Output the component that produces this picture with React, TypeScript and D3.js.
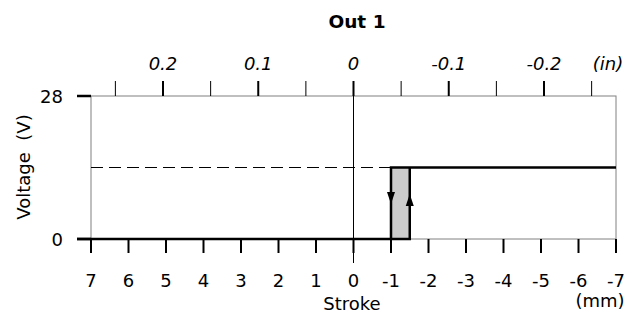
import React, { useEffect, useRef } from 'react';
import * as d3 from 'd3';

// stroke ticks (mm), reversed axis
const mmTicks = [7, 6, 5, 4, 3, 2, 1, 0, -1, -2, -3, -4, -5, -6, -7];
// inch ticks on the top axis
const inMajor = [0.2, 0.1, 0, -0.1, -0.2];
const inMinor = [0.25, 0.15, 0.05, -0.05, -0.15, -0.25];
const voltTicks = [0, 28];

// output signal (stroke mm, voltage V)
const onLevel = 14;
const releasePoint = -1.0; // falls back to 0 V here (moving left)
const operatePoint = -1.5; // switches on here (moving right)
const offPath: [number, number][] = [
  [7, 0],
  [operatePoint, 0],
  [operatePoint, onLevel],
];
const onPath: [number, number][] = [
  [releasePoint, 0],
  [releasePoint, onLevel],
  [-7, onLevel],
];

const FONT = '"DejaVu Sans", Verdana, sans-serif';
const FS = '18px';

const App = () => {
  const ref = useRef<SVGSVGElement>(null);

  useEffect(() => {
    const svg = d3.select(ref.current);
    svg.selectAll('*').remove();

    const left = 91,
      right = 616,
      top = 96,
      bottom = 239;

    const x = d3.scaleLinear().domain([7, -7]).range([left, right]);
    const y = d3.scaleLinear().domain([0, 28]).range([bottom, top]);
    const xin = (v: number) => x(v * 25.4);

    const g = svg.append('g').style('font-family', FONT);

    // title
    g.append('text')
      .attr('x', 357)
      .attr('y', 28)
      .attr('text-anchor', 'middle')
      .style('font-size', '18.5px')
      .style('font-weight', 'bold')
      .text('Out 1');

    // hysteresis fill
    g.append('rect')
      .attr('x', x(releasePoint))
      .attr('y', y(onLevel))
      .attr('width', x(operatePoint) - x(releasePoint))
      .attr('height', y(0) - y(onLevel))
      .attr('fill', '#cccccc');

    // frame
    g.append('rect')
      .attr('x', left)
      .attr('y', top)
      .attr('width', right - left)
      .attr('height', bottom - top)
      .attr('fill', 'none')
      .attr('stroke', '#808080')
      .attr('stroke-width', 1);

    // dashed level line
    g.append('line')
      .attr('x1', left)
      .attr('x2', x(releasePoint))
      .attr('y1', y(onLevel))
      .attr('y2', y(onLevel))
      .attr('stroke', '#000')
      .attr('stroke-width', 1)
      .attr('stroke-dasharray', '12,6');

    // zero stroke line
    g.append('line')
      .attr('x1', x(0))
      .attr('x2', x(0))
      .attr('y1', top)
      .attr('y2', 263)
      .attr('stroke', '#000')
      .attr('stroke-width', 1);

    // top axis ticks
    g.selectAll('.tmaj')
      .data(inMajor)
      .enter()
      .append('line')
      .attr('x1', (d) => xin(d))
      .attr('x2', (d) => xin(d))
      .attr('y1', top)
      .attr('y2', top - 15)
      .attr('stroke', '#000')
      .attr('stroke-width', 2);
    g.selectAll('.tmin')
      .data(inMinor)
      .enter()
      .append('line')
      .attr('x1', (d) => xin(d))
      .attr('x2', (d) => xin(d))
      .attr('y1', top)
      .attr('y2', top - 15)
      .attr('stroke', '#000')
      .attr('stroke-width', 1);
    g.selectAll('.tlab')
      .data(inMajor)
      .enter()
      .append('text')
      .attr('x', (d) => xin(d))
      .attr('y', 70)
      .attr('text-anchor', 'middle')
      .style('font-size', FS)
      .style('font-style', 'italic')
      .text((d) => (d === 0 ? '0' : String(d)));
    g.append('text')
      .attr('x', 608)
      .attr('y', 70)
      .attr('text-anchor', 'middle')
      .style('font-size', FS)
      .style('font-style', 'italic')
      .text('(in)');

    // bottom axis
    g.append('line')
      .attr('x1', 77)
      .attr('x2', left)
      .attr('y1', bottom)
      .attr('y2', bottom)
      .attr('stroke', '#000')
      .attr('stroke-width', 2.5);
    g.selectAll('.bt')
      .data(mmTicks)
      .enter()
      .append('line')
      .attr('x1', (d) => x(d))
      .attr('x2', (d) => x(d))
      .attr('y1', bottom)
      .attr('y2', bottom + 14)
      .attr('stroke', '#000')
      .attr('stroke-width', 2);
    g.selectAll('.bl')
      .data(mmTicks)
      .enter()
      .append('text')
      .attr('x', (d) => x(d))
      .attr('y', 287)
      .attr('text-anchor', 'middle')
      .style('font-size', FS)
      .text((d) => (d < 0 ? '-' + Math.abs(d) : String(d)));
    g.append('text')
      .attr('x', 352)
      .attr('y', 310)
      .attr('text-anchor', 'middle')
      .style('font-size', FS)
      .text('Stroke');
    g.append('text')
      .attr('x', 600)
      .attr('y', 307)
      .attr('text-anchor', 'middle')
      .style('font-size', FS)
      .text('(mm)');

    // left axis
    g.selectAll('.yt')
      .data(voltTicks)
      .enter()
      .append('line')
      .attr('x1', 77)
      .attr('x2', left)
      .attr('y1', (d) => y(d))
      .attr('y2', (d) => y(d))
      .attr('stroke', '#000')
      .attr('stroke-width', 2.5);
    g.selectAll('.yl')
      .data(voltTicks)
      .enter()
      .append('text')
      .attr('x', 63)
      .attr('y', (d) => y(d) + 7)
      .attr('text-anchor', 'end')
      .style('font-size', FS)
      .text((d) => String(d));
    g.append('text')
      .attr('transform', 'translate(30,' + 167 + ')rotate(-90)')
      .attr('text-anchor', 'middle')
      .style('font-size', FS)
      .style('white-space', 'pre')
      .text('Voltage  (V)');

    // signal
    const line = d3
      .line<[number, number]>()
      .x((d) => x(d[0]))
      .y((d) => y(d[1]));
    [offPath, onPath].forEach((p) => {
      g.append('path')
        .attr('d', line(p))
        .attr('fill', 'none')
        .attr('stroke', '#000')
        .attr('stroke-width', 2.5)
        .attr('stroke-linejoin', 'miter');
    });

    // arrows
    const ay = 200;
    const xd = x(releasePoint);
    g.append('path')
      .attr('d', `M${xd - 4},${ay - 8}L${xd + 4},${ay - 8}L${xd},${ay + 4}Z`)
      .attr('fill', '#000');
    const xu = x(operatePoint);
    g.append('path')
      .attr('d', `M${xu - 4},${ay + 6}L${xu + 4},${ay + 6}L${xu},${ay - 6}Z`)
      .attr('fill', '#000');
  }, []);

  return (
    <svg
      ref={ref}
      width={626}
      height={320}
      style={{ position: 'absolute', left: 0, top: 0, background: '#fff' }}
    />
  );
};

export default App;
